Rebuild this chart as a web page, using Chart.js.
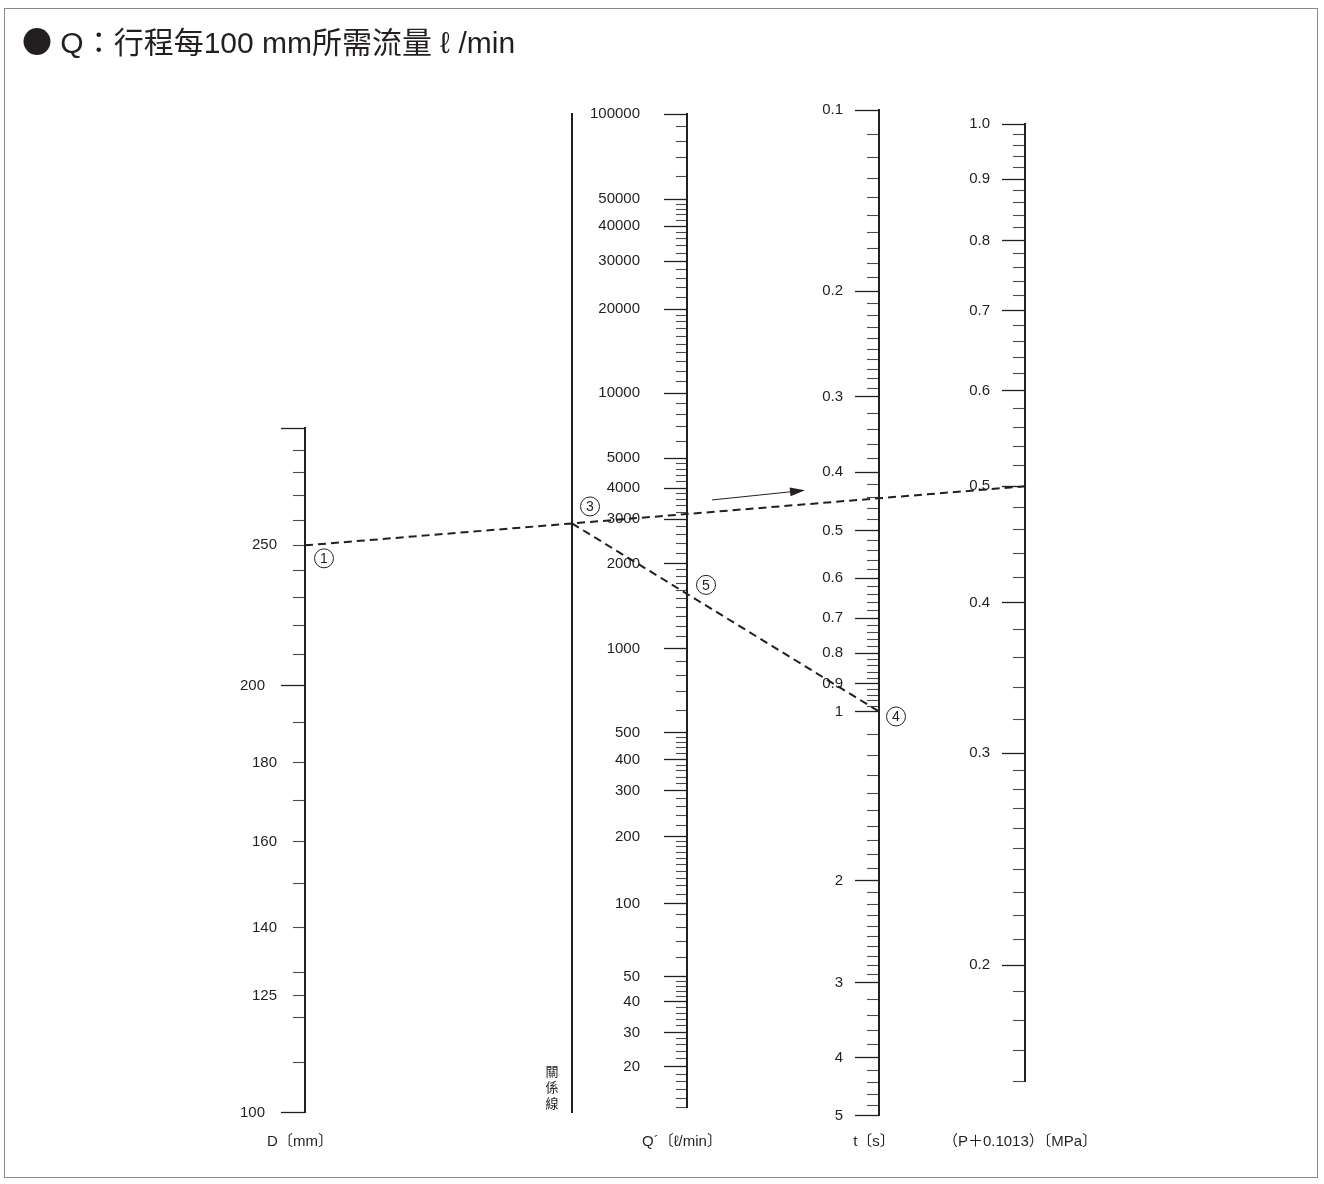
<!DOCTYPE html>
<html>
<head>
<meta charset="utf-8">
<title>Q：行程每100 mm所需流量</title>
<script src="https://cdn.jsdelivr.net/npm/chart.js@4.4.1/dist/chart.umd.min.js"></script>
<style>
  html, body { margin: 0; padding: 0; background: #fff; }
  #wrap { position: relative; width: 1324px; height: 1184px; overflow: hidden; }
  #nomo { position: absolute; left: 0; top: 0; }
  #title {
    position: absolute; left: 22px; top: 23px; line-height: 34px;
    font-size: 30px; font-family: "Liberation Sans", "Noto Sans CJK TC", sans-serif;
    color: #231f20; white-space: nowrap;
  }
  #title .dot { font-family: "Noto Sans CJK TC", sans-serif; }
</style>
</head>
<body>
<div id="wrap">
  <canvas id="nomo" width="1324" height="1184"></canvas>
  <div id="title"><span class="dot">●</span> Q：行程每100 mm所需流量 ℓ /min</div>
</div>
<script>
// values
const dLabels = [100, 125, 140, 160, 180, 200, 250];
const dLong = [100, 200, 300];
const dMinor = [110, 120, 130, 150, 170, 190, 210, 220, 230, 240, 260, 270, 280, 290];

const qLabels = [20, 30, 40, 50, 100, 200, 300, 400, 500, 1000, 2000, 3000, 4000, 5000,
                 10000, 20000, 30000, 40000, 50000, 100000];
const tLabels = [0.1, 0.2, 0.3, 0.4, 0.5, 0.6, 0.7, 0.8, 0.9, 1, 2, 3, 4, 5];
const pLabels = [0.2, 0.3, 0.4, 0.5, 0.6, 0.7, 0.8, 0.9, 1.0];

const axisTitles = ['D〔mm〕', 'Q´〔ℓ/min〕', 't〔s〕', '（P＋0.1013）〔MPa〕'];

// worked example: ① D = 250 mm, pressure 0.5, ④ t = 1 s
const exampleAxes = ['yD', 'yP', 'yT'];
const exampleValues = [250, 0.5, 1];

const ink = '#231f20';
const FRAME_H = 1020;   // calibration units along the chart area height

// minor tick marks: [from, to, step] runs
function runs(list) {
  const out = [];
  list.forEach(([lo, hi, step]) => {
    for (let k = 0; ; k++) {
      const v = +(lo + k * step).toFixed(6);
      if (v > hi - step / 2) break;
      out.push(v);
    }
  });
  return out;
}

const qMinor = runs([10, 100, 1000, 10000].flatMap(b => [[b, 2 * b, 0.1 * b], [2 * b, 5 * b, 0.2 * b], [5 * b, 10 * b, b]]))
  .filter(v => v >= 15 && !qLabels.includes(v));
const tMinor = runs([[0.1, 0.3, 0.01], [0.3, 1, 0.02], [1, 3, 0.1], [3, 5, 0.2]]).filter(v => !tLabels.includes(v));
const pMinor = runs([[0.16, 0.3, 0.01], [0.3, 1.0, 0.02]]).filter(v => !pLabels.includes(v));

function tickSet(labels, minor, long, fmt) {
  const vals = [...new Set([...labels, ...minor, ...long])].sort((a, b) => a - b);
  return vals.map(v => ({ value: v, long: long.includes(v), text: labels.includes(v) ? fmt(v) : '' }));
}

// scale geometry of each nomogram axis (x position, calibration value -> offset)
const axisSpecs = {
  yD: { x: 305, longTick: 24, shortTick: 12, labelGap: 16,
        cal: [[300, 328], [250, 445], [200, 585], [180, 662], [160, 741], [140, 827], [125, 895], [100, 1012]],
        ticks: tickSet(dLabels, dMinor, dLong, String) },
  yRel: { x: 572, cal: [[1, 14], [10, 1012]], ticks: [] },
  yQ: { x: 687, longTick: 23, shortTick: 11, labelGap: 24,
        cal: [[100000, 14], [50000, 99], [40000, 126], [30000, 161], [20000, 209], [10000, 293],
              [5000, 358], [4000, 388], [3000, 419], [2000, 463], [1000, 548], [500, 632], [400, 659],
              [300, 690], [200, 736], [100, 803], [50, 876], [40, 901], [30, 932], [20, 966], [15, 1007]],
        ticks: tickSet(qLabels, qMinor, qLabels, String) },
  yT: { x: 879, longTick: 24, shortTick: 12, labelGap: 12,
        cal: [[0.1, 10], [1, 611], [2, 780], [3, 882], [4, 957], [5, 1015]],
        ticks: tickSet(tLabels, tMinor, tLabels, String) },
  yP: { x: 1025, longTick: 23, shortTick: 12, labelGap: 12,
        cal: [[1.0, 24], [0.16, 981]],
        ticks: tickSet(pLabels, pMinor, pLabels, v => v.toFixed(1)) }
};
Object.values(axisSpecs).forEach(s => {
  s.pts = s.cal.map(c => [Math.log10(c[0]), c[1]]).sort((a, b) => a[0] - b[0]);
});

function calFrac(spec, v) {
  const lv = Math.log10(v), p = spec.pts;
  let i = 0;
  while (i < p.length - 2 && lv > p[i + 1][0]) i++;
  const [x0, y0] = p[i], [x1, y1] = p[i + 1];
  return (y0 + (lv - x0) / (x1 - x0) * (y1 - y0)) / FRAME_H;
}

// a vertical nomogram scale: log-interpolated calibration, own span, long/short ticks
class NomoScale extends Chart.Scale {
  static id = 'nomo';
  static defaults = {};

  get spec() { return axisSpecs[this.id]; }

  determineDataLimits() {
    const vals = this.spec.cal.map(c => c[0]);
    this.min = Math.min(...vals);
    this.max = Math.max(...vals);
  }
  buildTicks() {
    return this.spec.ticks.map(t => ({ value: t.value, long: t.long, text: t.text }));
  }
  getLabelForValue(v) { return String(v); }

  configure() {
    const area = this.chart.chartArea;
    if (area) {
      const ys = this.spec.cal.map(c => area.top + c[1] / FRAME_H * area.height);
      this.top = Math.min(...ys);
      this.bottom = Math.max(...ys);
      this.height = this.bottom - this.top;
    }
    super.configure();
  }
  getPixelForValue(v) {
    const area = this.chart.chartArea || this;
    return area.top + calFrac(this.spec, v) * (area.bottom - area.top);
  }
  getValueForPixel(px) {
    const area = this.chart.chartArea || this;
    const y = (px - area.top) / (area.bottom - area.top) * FRAME_H;
    const p = this.spec.pts.slice().sort((a, b) => a[1] - b[1]);
    let i = 0;
    while (i < p.length - 2 && y > p[i + 1][1]) i++;
    const [x0, y0] = p[i], [x1, y1] = p[i + 1];
    return Math.pow(10, x0 + (y - y0) / (y1 - y0) * (x1 - x0));
  }
  axisPixel() { return this.chart.scales.x.getPixelForValue(this.spec.x); }
  tickLen(i) {
    const t = this.ticks[i];
    return t && t.long ? this.spec.longTick : this.spec.shortTick;
  }
  _computeGridLineItems(chartArea) {
    const items = super._computeGridLineItems(chartArea);
    const bx = this.axisPixel();
    items.forEach((it, i) => { it.tx1 = bx; it.tx2 = bx - this.tickLen(i); });
    return items;
  }
  _computeLabelItems(chartArea) {
    const items = super._computeLabelItems(chartArea);
    const bx = this.axisPixel();
    items.forEach((it, i) => {
      const o = it.options || it;
      o.translation = [bx - this.tickLen(i) - this.spec.labelGap, o.translation[1]];
      o.textAlign = 'right';
    });
    return items;
  }
}
Chart.register(NomoScale);

const tickFont = { family: '"Liberation Sans", Arial, sans-serif', size: 15 };

function nomoAxis(id, extra) {
  return Object.assign({
    type: 'nomo',
    axis: 'y',
    position: { x: axisSpecs[id].x },
    border: { color: ink, width: 2 },
    grid: {
      drawOnChartArea: false,
      tickLength: 24,
      color: ink,
      tickColor: c => (c.tick && c.tick.long ? ink : '#4a4a4a'),
      tickWidth: c => (c.tick && c.tick.long ? 1.3 : 1.1)
    },
    ticks: {
      autoSkip: false,
      font: tickFont,
      color: ink,
      callback: (v, i, ticks) => ticks[i].text
    }
  }, extra || {});
}

const xTicks = [axisSpecs.yD.x, axisSpecs.yQ.x, axisSpecs.yT.x, axisSpecs.yP.x];

const readingPlugin = {
  id: 'reading',
  beforeDraw(chart) {
    const ctx = chart.ctx;
    ctx.save();
    ctx.strokeStyle = '#8a8a8a';
    ctx.lineWidth = 1;
    ctx.strokeRect(4.5, 8.5, 1313, 1169);
    ctx.restore();
  },
  afterDraw(chart) {
    const { ctx, scales } = chart;
    const px = id => scales.x.getPixelForValue(axisSpecs[id].x);
    const pt = (id, v) => ({ x: px(id), y: scales[id].getPixelForValue(v) });

    const a = pt(exampleAxes[0], exampleValues[0]);   // ① on D
    const b = pt(exampleAxes[1], exampleValues[1]);   // on (P+0.1013)
    const c = pt(exampleAxes[2], exampleValues[2]);   // ④ on t
    const relX = px('yRel');
    const slope = (b.y - a.y) / (b.x - a.x);
    const pivot = { x: relX, y: a.y + slope * (relX - a.x) };            // ③
    const qX = px('yQ');
    const q = { x: qX, y: pivot.y + (c.y - pivot.y) * (qX - pivot.x) / (c.x - pivot.x) };  // ⑤
    const tX = px('yT');

    ctx.save();
    ctx.strokeStyle = ink;
    ctx.lineWidth = 2;
    ctx.setLineDash([8, 5]);
    ctx.beginPath();
    ctx.moveTo(a.x, a.y);
    ctx.lineTo(b.x, b.y);
    ctx.moveTo(pivot.x, pivot.y);
    ctx.lineTo(c.x, c.y);
    ctx.stroke();
    ctx.setLineDash([]);

    // direction arrow above the first line
    const x0 = qX + 25, x1 = tX - 74;
    const y0 = a.y + slope * (x0 - a.x) - 12, y1 = a.y + slope * (x1 - a.x) - 14;
    const ang = Math.atan2(y1 - y0, x1 - x0);
    ctx.lineWidth = 1;
    ctx.beginPath();
    ctx.moveTo(x0, y0);
    ctx.lineTo(x1 - 10 * Math.cos(ang), y1 - 10 * Math.sin(ang));
    ctx.stroke();
    ctx.fillStyle = ink;
    ctx.beginPath();
    ctx.moveTo(x1, y1);
    ctx.lineTo(x1 - 15 * Math.cos(ang) + 4.5 * Math.sin(ang), y1 - 15 * Math.sin(ang) - 4.5 * Math.cos(ang));
    ctx.lineTo(x1 - 15 * Math.cos(ang) - 4.5 * Math.sin(ang), y1 - 15 * Math.sin(ang) + 4.5 * Math.cos(ang));
    ctx.closePath();
    ctx.fill();

    // circled step numbers
    const circled = (txt, x, y) => {
      ctx.beginPath();
      ctx.arc(x, y, 9.5, 0, Math.PI * 2);
      ctx.lineWidth = 1;
      ctx.strokeStyle = ink;
      ctx.stroke();
      ctx.font = '14px "Liberation Sans", Arial, sans-serif';
      ctx.fillStyle = ink;
      ctx.textAlign = 'center';
      ctx.textBaseline = 'middle';
      ctx.fillText(txt, x, y + 1);
    };
    circled('1', a.x + 19, a.y + 13);
    circled('3', pivot.x + 18, pivot.y - 17);
    circled('4', c.x + 17, c.y + 5);
    circled('5', q.x + 19, q.y - 9);

    // 關係線 label, stacked vertically
    const rb = scales.yRel.bottom;
    ctx.font = '13px "Noto Sans CJK TC", sans-serif';
    ctx.textAlign = 'center';
    ctx.textBaseline = 'middle';
    ['關', '係', '線'].forEach((ch, i) => ctx.fillText(ch, relX - 20, rb - 42 + i * 16));
    ctx.restore();
  }
};

new Chart(document.getElementById('nomo'), {
  type: 'line',
  data: { datasets: [] },
  options: {
    responsive: false,
    animation: false,
    events: [],
    layout: { padding: { top: 100, bottom: 21.2, left: 22, right: 22 } },
    plugins: { legend: { display: false }, tooltip: { enabled: false } },
    scales: {
      x: {
        type: 'linear',
        min: 22,
        max: 1302,
        grid: { display: false, drawTicks: false },
        border: { display: false },
        afterBuildTicks: s => { s.ticks = xTicks.map(v => ({ value: v })); },
        ticks: {
          autoSkip: false,
          maxRotation: 0,
          minRotation: 0,
          padding: 12,
          labelOffset: -5,
          color: ink,
          font: { family: '"Liberation Sans Narrow", "Liberation Sans", "Noto Sans CJK TC", sans-serif', size: 15 },
          callback: (v, i) => axisTitles[i]
        }
      },
      yD: nomoAxis('yD'),
      yRel: nomoAxis('yRel', { ticks: { display: false } }),
      yQ: nomoAxis('yQ'),
      yT: nomoAxis('yT'),
      yP: nomoAxis('yP')
    }
  },
  plugins: [readingPlugin]
});
</script>
</body>
</html>
